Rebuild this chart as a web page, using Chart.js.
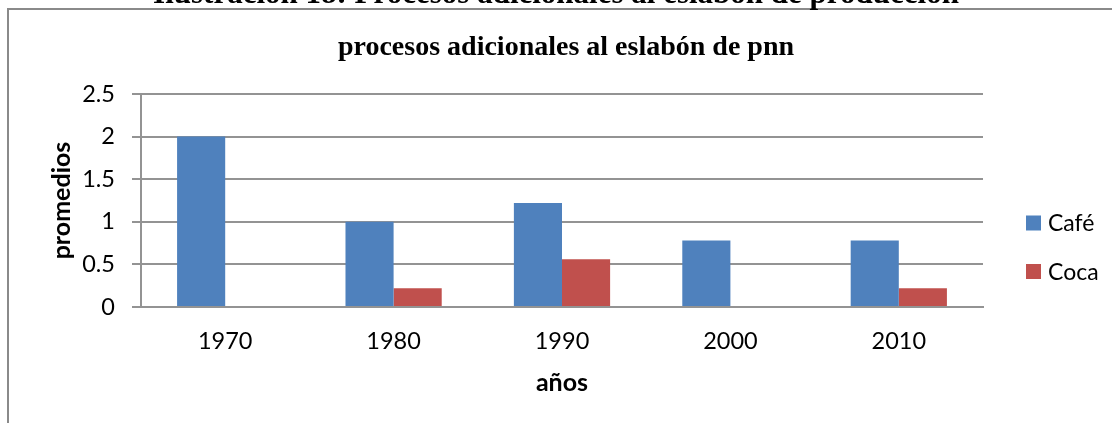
<!DOCTYPE html>
<html>
<head>
<meta charset="utf-8">
<script src="https://cdn.jsdelivr.net/npm/chart.js@4.4.1/dist/chart.umd.min.js"></script>
<style>
    body { margin: 0; background: #fff; }
    #wrap { position: relative; width: 1112px; height: 423px; overflow: hidden; background: #fff; }
    .caption {
        position: absolute; left: 0; top: -23px; width: 1112px;
        text-align: center; font: bold 31px/31px 'Liberation Serif', serif; color: #000;
        white-space: nowrap; z-index: 3;
    }
    .frame {
        position: absolute; left: 7px; top: 8px; width: 1200px; height: 600px;
        border-left: 2px solid #8a8a8a; border-top: 2px solid #8a8a8a; z-index: 1;
    }
    #myChart { position: absolute; left: 0; top: 0; z-index: 2; }
</style>
</head>
<body>
<div id="wrap">
    <div class="caption">Ilustración 18: Procesos adicionales al eslabón de producción</div>
    <div class="frame"></div>
    <canvas id="myChart" width="1112" height="423"></canvas>
</div>
<script>
const years = ['1970', '1980', '1990', '2000', '2010'];
const cafe = [2, 1, 1.22, 0.78, 0.78];
const coca = [0, 0.22, 0.56, 0, 0.22];
const yTicks = [0, 0.5, 1, 1.5, 2, 2.5];

const gridGrey = '#939393';
const font = 'Lato';

// leyenda a mano, para ubicarla como en la figura original
const sideLegend = {
    id: 'sideLegend',
    afterDraw(chart) {
        const c = chart.ctx;
        c.save();
        c.font = '23px ' + font;
        c.textBaseline = 'alphabetic';
        chart.data.datasets.forEach((ds, i) => {
            const y = 223 + i * 48.5;
            c.fillStyle = ds.backgroundColor;
            c.fillRect(1026, y - 7.5, 15, 15);
            c.fillStyle = '#000';
            c.fillText(ds.label, 1048, y + 8);
        });
        c.restore();
    }
};

const data = {
    labels: years,
    datasets: [{
            label: 'Café',
            data: cafe,
            backgroundColor: '#4F81BD'
        }, {
            label: 'Coca',
            data: coca,
            backgroundColor: '#C0504D'
        }]
};

const config = {
    type: 'bar',
    data: data,
    plugins: [sideLegend],
    options: {
        responsive: false,
        animation: false,
        layout: {
            padding: { left: 20, right: 0, top: 0, bottom: 0 }
        },
        datasets: {
            bar: {
                categoryPercentage: 2 / 3.5,
                barPercentage: 1
            }
        },
        plugins: {
            legend: { display: false },
            tooltip: { enabled: false },
            title: {
                display: true,
                text: 'procesos adicionales al eslabón de pnn',
                color: '#000',
                font: { family: 'Liberation Serif', size: 28, weight: 'bold' },
                padding: { top: 31, bottom: 29.4 }
            }
        },
        scales: {
            y: {
                min: 0,
                max: 2.5,
                afterFit: (scale) => { scale.width = 121; },
                afterBuildTicks: (scale) => { scale.ticks = yTicks.map(v => ({ value: v })); },
                grid: {
                    color: gridGrey,
                    lineWidth: 2,
                    drawTicks: true,
                    tickLength: 9
                },
                border: { display: true, color: gridGrey, width: 2 },
                ticks: {
                    color: '#000',
                    padding: 17,
                    font: { family: font, size: 23.5 },
                    callback: (value) => String(value)
                },
                title: {
                    display: true,
                    text: 'promedios',
                    color: '#000',
                    font: { family: font, size: 25, weight: 'bold' },
                    padding: { top: 27, bottom: 0 }
                }
            },
            // espacio vacío a la derecha para la leyenda
            legendSpace: {
                type: 'linear',
                position: 'right',
                display: true,
                afterFit: (scale) => { scale.width = 129; },
                grid: { display: false, drawTicks: false },
                border: { display: false },
                ticks: { display: false }
            },
            x: {
                afterFit: (scale) => { scale.height = 116; },
                grid: { display: false, drawTicks: false },
                border: { display: true, color: gridGrey, width: 2 },
                ticks: {
                    color: '#000',
                    padding: 20,
                    font: { family: font, size: 23.5 }
                },
                title: {
                    display: true,
                    text: 'años',
                    color: '#000',
                    font: { family: font, size: 25, weight: 'bold' },
                    padding: { top: 0, bottom: 25 }
                }
            }
        }
    }
};

// =================

var ctx = document.getElementById('myChart');
const myChart = new Chart(
        ctx,
        config
        );
</script>
</body>
</html>
